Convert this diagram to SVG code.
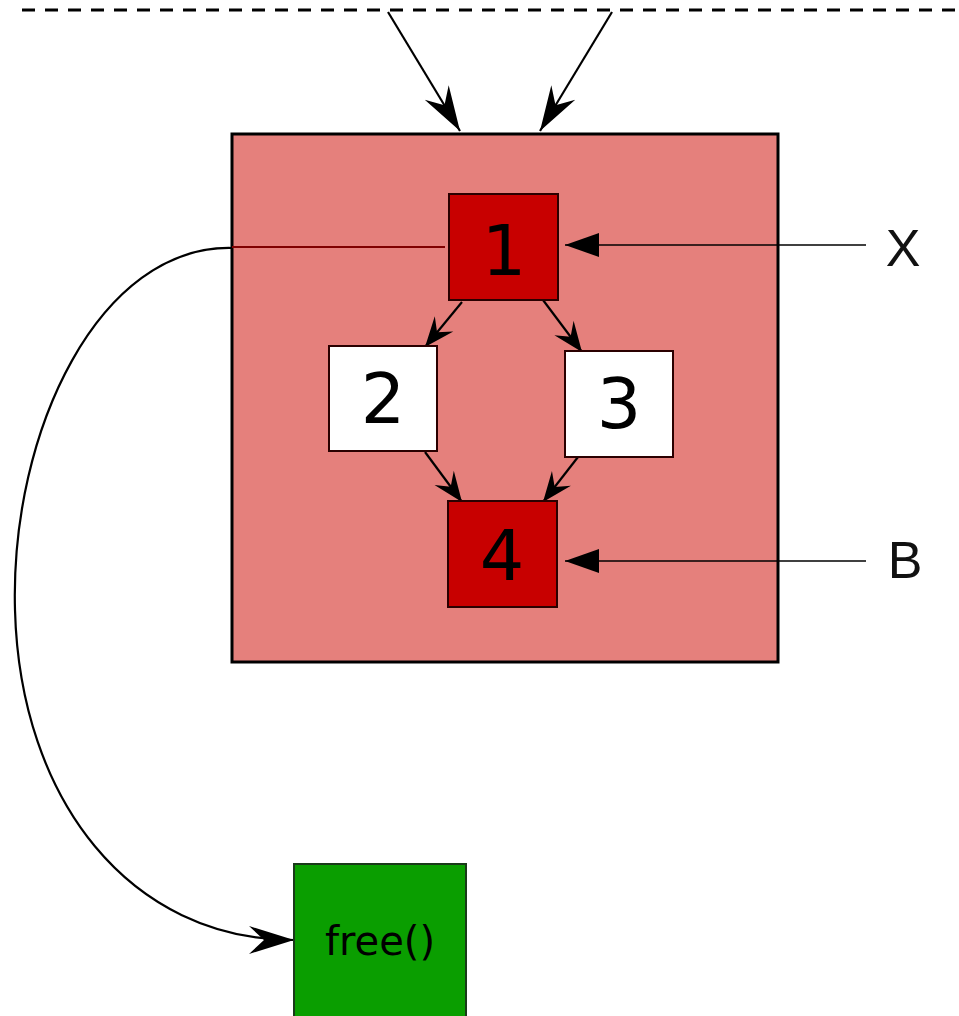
<svg xmlns="http://www.w3.org/2000/svg" width="959" height="1016" viewBox="0 0 959 1016">
<style>
.node{stroke:#2a0000;stroke-width:2}
.red{fill:#c80000}
.white{fill:#ffffff}
.num{font-family:"DejaVu Sans",sans-serif;font-size:70px;fill:#000;text-anchor:middle}
.lbl{font-family:"Liberation Sans",sans-serif;font-size:52px;fill:#111;text-anchor:middle}
.edge{fill:none;stroke:#000;stroke-width:2.2}
.thin{fill:none;stroke:#000;stroke-width:1.5}
</style>
<defs>
<marker id="big" markerUnits="userSpaceOnUse" orient="auto" markerWidth="50" markerHeight="34" refX="0" refY="0" viewBox="-48 -17 50 34" overflow="visible">
<path d="M0,0 L-45,-14 L-30,0 L-45,14 Z" fill="#000"/>
</marker>
<marker id="small" markerUnits="userSpaceOnUse" orient="auto" markerWidth="34" markerHeight="28" refX="0" refY="0" viewBox="-32 -14 34 28" overflow="visible">
<path d="M0,0 L-30,-12 L-19,0 L-30,12 Z" fill="#000"/>
</marker>
<marker id="tri" markerUnits="userSpaceOnUse" orient="auto" markerWidth="36" markerHeight="28" refX="0" refY="0" viewBox="-34 -14 36 28" overflow="visible">
<path d="M0,0 L-34,-12 L-34,12 Z" fill="#000"/>
</marker>
</defs>
<line x1="22" y1="10" x2="959" y2="10" stroke="#000" stroke-width="3" stroke-dasharray="13,10"/>
<g id="container">
<rect x="232" y="134" width="546" height="528" fill="#e5807c" stroke="#000" stroke-width="3"/>
</g>
<g id="connectors">
<line class="edge" x1="388" y1="12" x2="460" y2="131" marker-end="url(#big)"/>
<line class="edge" x1="612" y1="12" x2="540" y2="131" marker-end="url(#big)"/>
<line class="edge" x1="462" y1="302" x2="425" y2="347" marker-end="url(#small)"/>
<line class="edge" x1="543" y1="300" x2="582" y2="352" marker-end="url(#small)"/>
<line class="edge" x1="425" y1="452" x2="462" y2="502" marker-end="url(#small)"/>
<line class="edge" x1="578" y1="457" x2="543" y2="502" marker-end="url(#small)"/>
<line x1="445" y1="247" x2="232" y2="247" stroke="#800000" stroke-width="2"/>
<path class="edge" d="M232,248 C100,245 10,430 15,610 C20,800 130,940 294,940" marker-end="url(#big)"/>
<line class="thin" x1="866" y1="245" x2="565" y2="245" marker-end="url(#tri)"/>
<line class="thin" x1="866" y1="561" x2="565" y2="561" marker-end="url(#tri)"/>
</g>
<g id="n1"><rect class="node red" x="449" y="194" width="109" height="106"/><text class="num" x="504" y="275">1</text></g>
<g id="n2"><rect class="node white" x="329" y="346" width="108" height="105"/><text class="num" x="383" y="423">2</text></g>
<g id="n3"><rect class="node white" x="565" y="351" width="108" height="106"/><text class="num" x="619" y="428">3</text></g>
<g id="n4"><rect class="node red" x="448" y="501" width="109" height="106"/><text class="num" x="502" y="580">4</text></g>
<g id="free"><rect x="294" y="864" width="172" height="160" fill="#0a9e00" stroke="#1a3a1a" stroke-width="2"/><text x="380" y="955" font-family="DejaVu Sans,sans-serif" font-size="40" fill="#000" text-anchor="middle">free()</text></g>
<g id="labelX"><text class="lbl" x="903" y="266">X</text></g>
<g id="labelB"><text class="lbl" x="905" y="578">B</text></g>
</svg>
